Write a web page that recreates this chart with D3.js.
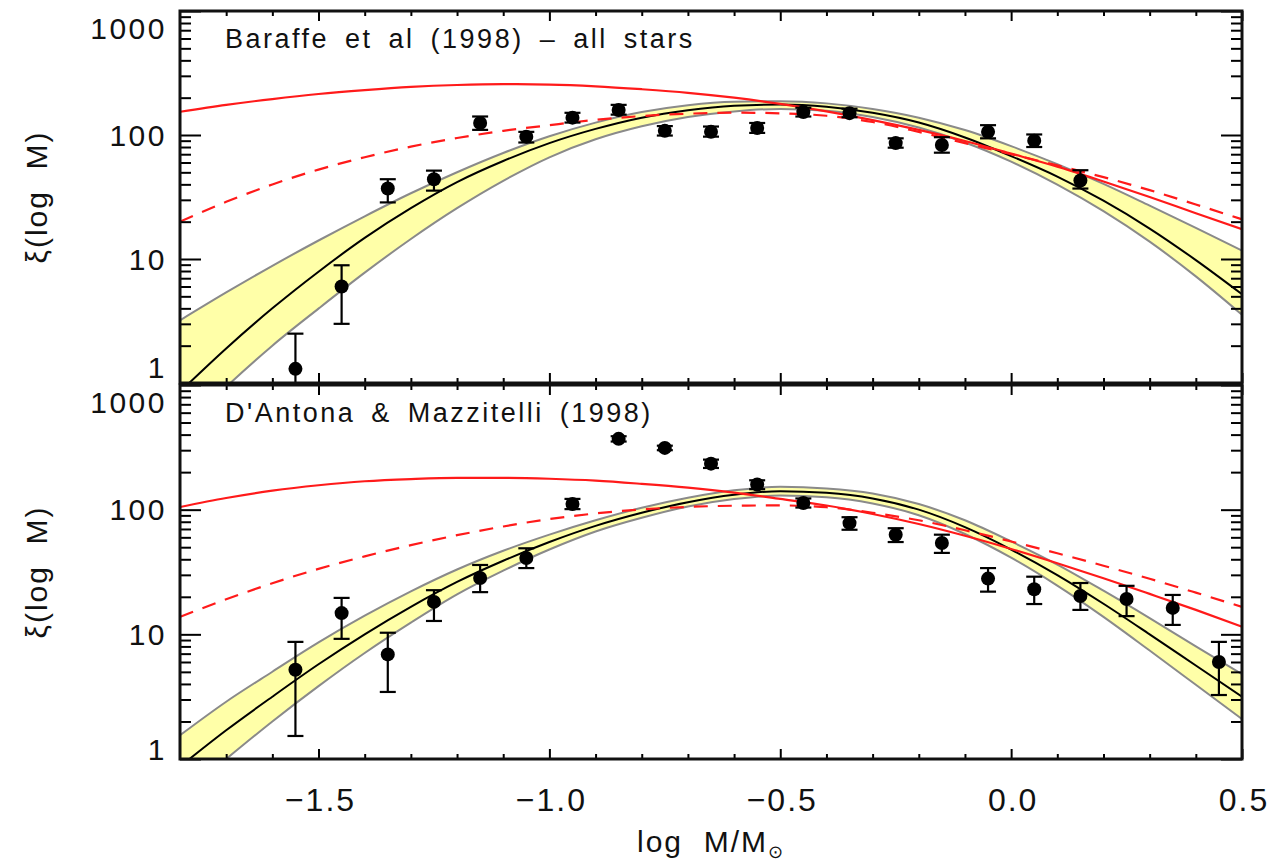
<!DOCTYPE html>
<html>
<head>
<meta charset="utf-8">
<style>
  body { margin: 0; background: #fff; }
  text { font-family: "Liberation Sans", Arial, Helvetica, sans-serif; fill: #111; }
</style>
</head>
<body>
<div id="container"></div>
<script src="https://cdn.jsdelivr.net/npm/d3@7"></script>
<script>

// ---- data ----

// bin centres (log M/Msun) of the measured points
const massBins = [-1.55, -1.45, -1.35, -1.25, -1.15, -1.05, -0.95, -0.85, -0.75, -0.65, -0.55,
                  -0.45, -0.35, -0.25, -0.15, -0.05, 0.05, 0.15, 0.25, 0.35, 0.45];

// x positions where the model curves were sampled
const curveX = [-1.8, -1.7, -1.6, -1.5, -1.4, -1.3, -1.2, -1.1, -1.0, -0.9, -0.8, -0.7,
                -0.6, -0.5, -0.4, -0.3, -0.2, -0.1, 0.0, 0.1, 0.2, 0.3, 0.4, 0.5];

// top panel: Baraffe et al (1998) - all stars
const topVal = [1.3, 6.0, 37, 44, 125, 97, 138, 159, 108, 106, 114, 153, 150, 86, 83, 106, 90, 43];
const topLo  = [0.5, 3.0, 28.6, 35.6, 110, 87, 126, 146, 99, 97, 104, 141, 139, 79, 72, 94, 80, 37];
const topHi  = [2.5, 8.9, 44, 51.6, 141, 106, 151, 175, 118, 117, 125, 166, 163, 94, 96, 120, 101, 52];

const topFit    = [0.85, 1.9, 4.0, 7.9, 14.8, 25.7, 41.7, 61.7, 86, 112, 138, 158.5,
                   172, 176, 169, 151, 126, 95.5, 67.6, 46.2, 29.5, 17.6, 9.8, 5.2];
const topUpper  = [3.2, 5.37, 8.81, 14.1, 22.1, 33.9, 50.1, 71.6, 97.7, 125.9, 153.1, 173.8,
                   185.4, 187.1, 179.9, 162.2, 138, 109.6, 81.3, 58.2, 40.3, 26.9, 17.8, 11.7];
const topLower  = [0.4, 0.93, 2.0, 3.98, 7.76, 14.5, 25.7, 42.7, 66.1, 92.3, 117.5, 139.6,
                   154.9, 162.2, 156.7, 139.6, 114.8, 87.1, 61, 39.8, 24.3, 13.8, 7.24, 3.55];
const topSolid  = [154, 175, 195, 214, 230, 244, 253, 257, 255, 247, 234, 219,
                   200, 178, 155, 132, 110, 89.5, 70.8, 55.6, 42.2, 31.6, 23.4, 17.4];
const topDashed = [20, 28.9, 39.9, 52.6, 66.2, 80.5, 94.6, 108, 120, 132.4, 142.2, 148.6,
                   151.4, 149.6, 142.9, 127.4, 105.9, 86.1, 70, 56.9, 45.7, 35.9, 27.5, 20.9];

// bottom panel: D'Antona & Mazzitelli (1998)
const botVal = [5.2, 14.8, 6.9, 18.2, 28.3, 41, 111, 370, 313, 234, 159, 113, 78, 63, 54, 28, 23, 20.3, 19.2, 16.3, 6.0];
const botLo  = [1.53, 9.2, 3.45, 12.8, 21.8, 34, 101, 352, 300, 216, 146, 104, 69, 55, 45, 22, 17.5, 15.7, 14, 11.9, 3.26];
const botHi  = [8.7, 19.6, 10.3, 22.6, 36, 49, 122, 388, 326, 252, 172, 123, 87, 71, 63, 34, 29, 25.8, 24.5, 20.7, 8.7];

const botFit    = [0.87, 1.7, 3.16, 5.75, 10.0, 16.6, 26.3, 38.9, 55.0, 74.1, 94.4, 114.8,
                   131.8, 140.6, 136.5, 123.0, 100, 72.4, 47.9, 29.9, 17.6, 10.0, 5.62, 3.16];
const botUpper  = [1.55, 2.88, 5.01, 8.61, 14.1, 22.1, 33.1, 46.8, 63.1, 82.2, 103.5, 124.5,
                   142.9, 152.4, 147.9, 134.9, 110.9, 82.2, 55.6, 36.3, 22.4, 13.5, 8.0, 4.79];
const botLower  = [0.49, 1.0, 2.0, 3.84, 7.08, 12.4, 20.9, 32.4, 47.9, 66.8, 86.1, 106,
                   121.6, 129.7, 125.9, 112.2, 90.2, 63.8, 41.2, 24.6, 13.8, 7.41, 3.94, 2.09];
const botSolid  = [105, 124, 142, 157, 169, 176, 180, 180, 177, 171, 161, 150,
                   137, 122, 108, 92.3, 76.7, 61.7, 48.4, 37.2, 28.2, 21.1, 15.7, 11.5];
const botDashed = [13.8, 19.1, 25.7, 33.5, 42.2, 51.9, 62.4, 73.3, 84.1, 93.3, 100.5, 105.2,
                   107.6, 108.1, 104.7, 94.4, 82.2, 68.4, 55.6, 44.7, 35.5, 27.9, 21.6, 16.6];

const panelTitles = ["Baraffe et al (1998) \u2013 all stars", "D'Antona & Mazzitelli (1998)"];
const xMajor = [-1.5, -1.0, -0.5, 0.0, 0.5];
const xMinor = [-1.7, -1.6, -1.4, -1.3, -1.2, -1.1, -0.9, -0.8, -0.7, -0.6, -0.4, -0.3, -0.2, -0.1,
                0.1, 0.2, 0.3, 0.4];
const yMajor = [1, 10, 100, 1000];
const yMinor = [2, 3, 4, 5, 6, 7, 8, 9, 20, 30, 40, 50, 60, 70, 80, 90, 200, 300, 400, 500, 600, 700, 800, 900];

/*** LAYOUT ***/
const width = 1272;
const height = 866;
const marginLeft = 180;
const plotRight = 1242;

const panels = [
  { top: 11, bottom: 383, title: panelTitles[0],
    val: topVal, lo: topLo, hi: topHi,
    fit: topFit, upper: topUpper, lower: topLower, solid: topSolid, dashed: topDashed },
  { top: 385, bottom: 759, title: panelTitles[1],
    val: botVal, lo: botLo, hi: botHi,
    fit: botFit, upper: botUpper, lower: botLower, solid: botSolid, dashed: botDashed }
];

const x = d3.scaleLinear().domain([-1.8, 0.5]).range([marginLeft, plotRight]);

const svg = d3.create("svg")
    .attr("width", width)
    .attr("height", height);

svg.append("rect").attr("width", width).attr("height", height).attr("fill", "#fff");

const defs = svg.append("defs");

panels.forEach((p, pi) => {
  const y = d3.scaleLog().domain([1, 1000]).range([p.bottom, p.top]);

  defs.append("clipPath").attr("id", "clip" + pi)
    .append("rect")
      .attr("x", marginLeft).attr("y", p.top)
      .attr("width", plotRight - marginLeft).attr("height", p.bottom - p.top);

  const g = svg.append("g").attr("clip-path", `url(#clip${pi})`);

  // model rows
  const rows = curveX.map((cx, i) => ({
    x: cx, fit: p.fit[i], up: p.upper[i], lo: p.lower[i], solid: p.solid[i], dashed: p.dashed[i]
  }));

  // yellow uncertainty band
  const band = d3.area()
      .x(d => x(d.x))
      .y0(d => y(d.lo))
      .y1(d => y(d.up))
      .curve(d3.curveMonotoneX);
  g.append("path")
      .attr("d", band(rows))
      .attr("fill", "#ffffa8");

  const lineOf = key => d3.line()
      .x(d => x(d.x))
      .y(d => y(d[key]))
      .curve(d3.curveMonotoneX);

  // band edges
  ["up", "lo"].forEach(k => {
    g.append("path")
        .attr("d", lineOf(k)(rows))
        .attr("fill", "none")
        .attr("stroke", "#8a8a8a")
        .attr("stroke-width", 2);
  });

  // best fit
  g.append("path")
      .attr("d", lineOf("fit")(rows))
      .attr("fill", "none")
      .attr("stroke", "#000")
      .attr("stroke-width", 2);

  // red models
  g.append("path")
      .attr("d", lineOf("solid")(rows))
      .attr("fill", "none")
      .attr("stroke", "#ff1a1a")
      .attr("stroke-width", 2.2);
  g.append("path")
      .attr("d", lineOf("dashed")(rows))
      .attr("fill", "none")
      .attr("stroke", "#ff1a1a")
      .attr("stroke-width", 2.2)
      .attr("stroke-dasharray", "14,10");

  // data points with error bars
  const pts = p.val.map((v, i) => ({ x: massBins[i], v: v, lo: p.lo[i], hi: p.hi[i] }));
  const eb = g.append("g").attr("stroke", "#000").attr("stroke-width", 2.2);
  eb.selectAll("line.v").data(pts).join("line")
      .attr("x1", d => x(d.x)).attr("x2", d => x(d.x))
      .attr("y1", d => y(d.lo)).attr("y2", d => y(d.hi));
  eb.selectAll("line.t").data(pts).join("line")
      .attr("x1", d => x(d.x) - 8).attr("x2", d => x(d.x) + 8)
      .attr("y1", d => y(d.hi)).attr("y2", d => y(d.hi));
  eb.selectAll("line.b").data(pts).join("line")
      .attr("x1", d => x(d.x) - 8).attr("x2", d => x(d.x) + 8)
      .attr("y1", d => y(d.lo)).attr("y2", d => y(d.lo));
  g.append("g").selectAll("circle").data(pts).join("circle")
      .attr("cx", d => x(d.x))
      .attr("cy", d => y(d.v))
      .attr("r", 7)
      .attr("fill", "#000");

  /*** AXES (ticks point inward) ***/
  const axisStyle = sel => {
    sel.select(".domain").remove();
    sel.selectAll(".tick line").attr("stroke", "#000").attr("stroke-width", 2);
    sel.selectAll(".tick text").remove();
  };
  svg.append("g").attr("transform", `translate(0,${p.bottom})`)
      .call(d3.axisBottom(x).tickValues(xMinor).tickSize(-5)).call(axisStyle);
  svg.append("g").attr("transform", `translate(0,${p.bottom})`)
      .call(d3.axisBottom(x).tickValues(xMajor).tickSize(-10)).call(axisStyle);
  svg.append("g").attr("transform", `translate(0,${p.top})`)
      .call(d3.axisTop(x).tickValues(xMinor).tickSize(-5)).call(axisStyle);
  svg.append("g").attr("transform", `translate(0,${p.top})`)
      .call(d3.axisTop(x).tickValues(xMajor).tickSize(-10)).call(axisStyle);

  svg.append("g").attr("transform", `translate(${marginLeft},0)`)
      .call(d3.axisLeft(y).tickValues(yMinor).tickSize(-11)).call(axisStyle);
  svg.append("g").attr("transform", `translate(${marginLeft},0)`)
      .call(d3.axisLeft(y).tickValues(yMajor).tickSize(-21)).call(axisStyle);
  svg.append("g").attr("transform", `translate(${plotRight},0)`)
      .call(d3.axisRight(y).tickValues(yMinor).tickSize(-11)).call(axisStyle);
  svg.append("g").attr("transform", `translate(${plotRight},0)`)
      .call(d3.axisRight(y).tickValues(yMajor).tickSize(-21)).call(axisStyle);

  // frame
  svg.append("rect")
      .attr("x", marginLeft).attr("y", p.top)
      .attr("width", plotRight - marginLeft).attr("height", p.bottom - p.top)
      .attr("fill", "none")
      .attr("stroke", "#111")
      .attr("stroke-width", 3);

  // y tick labels (edge labels nudged inside like the original)
  svg.append("g").selectAll("text").data(yMajor).join("text")
      .attr("x", 167)
      .attr("y", d => y(d) + (d === 1000 ? 17 : d === 1 ? (pi === 0 ? -16 : -10) : 0))
      .attr("text-anchor", "end")
      .attr("dominant-baseline", "central")
      .attr("font-size", 30)
      .attr("letter-spacing", 2.5)
      .text(d => d);

  // y axis title
  svg.append("text")
      .attr("transform", `translate(36,${(p.top + p.bottom) / 2}) rotate(-90)`)
      .attr("text-anchor", "middle")
      .attr("dominant-baseline", "central")
      .attr("font-size", 30)
      .attr("letter-spacing", 2)
      .style("white-space", "pre")
      .text("\u03BE(log  M)");

  // panel title
  svg.append("text")
      .attr("x", 225)
      .attr("y", p.top + 37)
      .attr("font-size", 27)
      .attr("letter-spacing", 2.5)
      .attr("word-spacing", 6)
      .style("white-space", "pre")
      .text(p.title);
});

// x tick labels under the lower panel
svg.append("g").selectAll("text").data(xMajor).join("text")
    .attr("x", d => x(d) + 2)
    .attr("y", 800)
    .attr("text-anchor", "middle")
    .attr("dominant-baseline", "central")
    .attr("font-size", 32)
    .attr("letter-spacing", 2)
    .text(d => d3.format(".1f")(d).replace("-", "\u2212"));

// x axis title
const xt = svg.append("text")
    .attr("x", (marginLeft + plotRight) / 2)
    .attr("y", 852)
    .attr("text-anchor", "middle")
    .attr("font-size", 30)
    .attr("letter-spacing", 2)
    .style("white-space", "pre");
xt.append("tspan").text("log  M/M");
xt.append("tspan").attr("font-size", 18).attr("dy", 6).text("\u2299");

container.append(svg.node());
</script>
</body>
</html>
